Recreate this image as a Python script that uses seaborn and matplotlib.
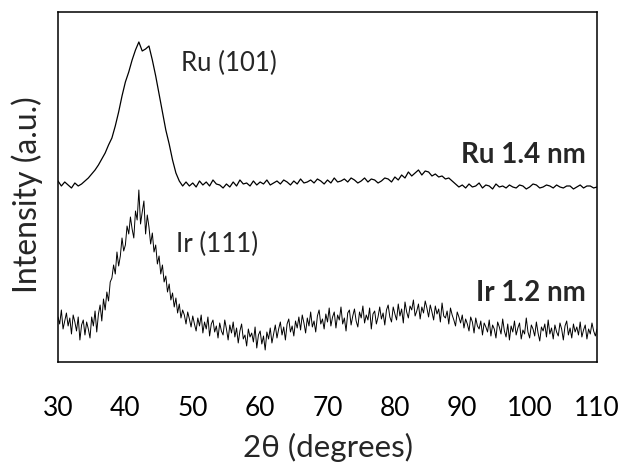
import numpy as np
import pandas as pd
import matplotlib
matplotlib.use("Agg")
import matplotlib.pyplot as plt
import seaborn as sns

# Ru 1.4 nm pattern, 2theta from 30 to 110 in 0.5 deg steps (arbitrary units, offset)
ru_start, ru_step = 30.0, 0.5
ru_intensity = [
    181, 176, 180, 177, 174, 179, 176, 178, 181, 184,
    188, 192, 197, 203, 209, 217, 224, 236, 250, 266,
    280, 290, 302, 312, 320, 311, 313, 316, 302, 286,
    268, 250, 232, 218, 202, 189, 181, 176, 180, 176,
    179, 175, 181, 177, 180, 176, 182, 178, 177, 174,
    178, 175, 180, 176, 182, 178, 179, 176, 181, 177,
    180, 178, 182, 177, 179, 181, 178, 182, 180, 177,
    181, 178, 183, 179, 180, 182, 179, 183, 181, 178,
    182, 179, 184, 180, 181, 183, 180, 184, 182, 179,
    181, 184, 180, 183, 182, 179, 181, 184, 183, 180,
    185, 182, 187, 184, 190, 186, 189, 192, 187, 191,
    190, 186, 188, 185, 186, 183, 184, 181, 178, 175,
    177, 174, 178, 175, 176, 179, 174, 177, 176, 173,
    178, 175, 176, 174, 177, 175, 174, 177, 176, 173,
    175, 178, 177, 174, 175, 177, 176, 174, 177, 175,
    174, 176, 176, 173, 175, 177, 174, 176, 176, 174,
    175,
]

# Ir 1.2 nm pattern, 2theta from 30 to 110 in 0.25 deg steps (arbitrary units)
ir_start, ir_step = 30.0, 0.25
ir_intensity = [
    45, 38, 52, 33, 41, 49, 36, 44, 28, 47, 40, 31, 45, 22, 37, 42,
    27, 40, 33, 24, 45, 36, 51, 30, 48, 57, 41, 63, 52, 70, 61, 80,
    84, 97, 88, 110, 96, 106, 124, 111, 117, 136, 128, 145, 133, 124, 151, 142,
    172, 138, 150, 161, 128, 147, 135, 118, 129, 110, 117, 98, 106, 88, 97, 80,
    86, 70, 78, 62, 69, 55, 64, 49, 58, 44, 52, 47, 38, 50, 43, 35,
    46, 38, 31, 44, 36, 47, 29, 40, 33, 45, 26, 38, 42, 30, 36, 24,
    39, 31, 27, 42, 33, 22, 37, 29, 40, 25, 34, 19, 31, 38, 23, 27,
    16, 33, 25, 29, 20, 35, 14, 27, 31, 18, 26, 12, 30, 23, 34, 19,
    28, 37, 24, 33, 40, 27, 35, 22, 38, 43, 30, 36, 26, 41, 34, 45,
    32, 47, 39, 29, 44, 36, 50, 35, 41, 30, 46, 52, 38, 43, 33, 48,
    40, 54, 36, 45, 50, 34, 47, 42, 55, 38, 44, 31, 49, 52, 37, 46,
    53, 41, 35, 50, 44, 56, 39, 47, 42, 54, 33, 48, 51, 38, 45, 55,
    43, 49, 37, 52, 57, 45, 40, 55, 48, 42, 58, 46, 53, 39, 60, 50,
    44, 56, 52, 62, 46, 51, 58, 43, 55, 49, 61, 54, 45, 57, 50, 42,
    56, 48, 53, 40, 59, 46, 44, 51, 38, 54, 47, 42, 36, 50, 45, 39,
    47, 34, 43, 38, 31, 45, 40, 29, 44, 36, 33, 41, 27, 39, 35, 30,
    42, 26, 37, 33, 24, 40, 35, 28, 43, 31, 25, 38, 22, 36, 30, 41,
    27, 34, 39, 23, 32, 28, 44, 30, 24, 37, 33, 26, 40, 29, 21, 35,
    31, 38, 25, 42, 28, 34, 23, 37, 30, 26, 39, 33, 22, 36, 41, 27,
    34, 24, 38, 30, 35, 27, 40, 25, 32, 37, 23, 33, 28, 39, 31, 26,
    33,
]

x_ticks = [30, 40, 50, 60, 70, 80, 90, 100, 110]

ru_df = pd.DataFrame({
    "two_theta": ru_start + ru_step * np.arange(len(ru_intensity)),
    "intensity": ru_intensity,
})
ir_df = pd.DataFrame({
    "two_theta": ir_start + ir_step * np.arange(len(ir_intensity)),
    "intensity": ir_intensity,
})

sns.set_style("white")
plt.rcParams["font.family"] = ["Lato", "DejaVu Sans"]

fig = plt.figure(figsize=(6.23, 4.64), dpi=100)
ax = fig.add_axes([0.0931, 0.2177, 0.8652, 0.7543])

sns.lineplot(data=ru_df, x="two_theta", y="intensity", ax=ax, color="black", linewidth=0.9)
sns.lineplot(data=ir_df, x="two_theta", y="intensity", ax=ax, color="black", linewidth=0.7)

ax.set_xlim(30, 110)
ax.set_ylim(0, 350)
ax.set_xticks(x_ticks)
ax.set_xticklabels([str(t) for t in x_ticks])
ax.set_yticks([])
ax.tick_params(axis="x", direction="out", length=8.5, width=1.1, labelsize=19, pad=15, colors="black")
for s in ax.spines.values():
    s.set_visible(True)
    s.set_color("black")
    s.set_linewidth(1.1)

ax.set_xlabel("2θ (degrees)", fontsize=22.5, labelpad=9)
ax.set_ylabel("Intensity (a.u.)", fontsize=23)
ax.yaxis.set_label_coords(-0.027, 0.48)

ax.text(48.2, 300, "Ru (101)", fontsize=18.5, ha="left", va="center")
ax.text(108.3, 208, "Ru 1.4 nm", fontsize=20, fontweight="bold", ha="right", va="center")
ax.text(47.5, 119, "Ir (111)", fontsize=18.5, ha="left", va="center")
ax.text(108.3, 70, "Ir 1.2 nm", fontsize=20, fontweight="bold", ha="right", va="center")

fig.savefig("out.png", dpi=100, facecolor="white")
